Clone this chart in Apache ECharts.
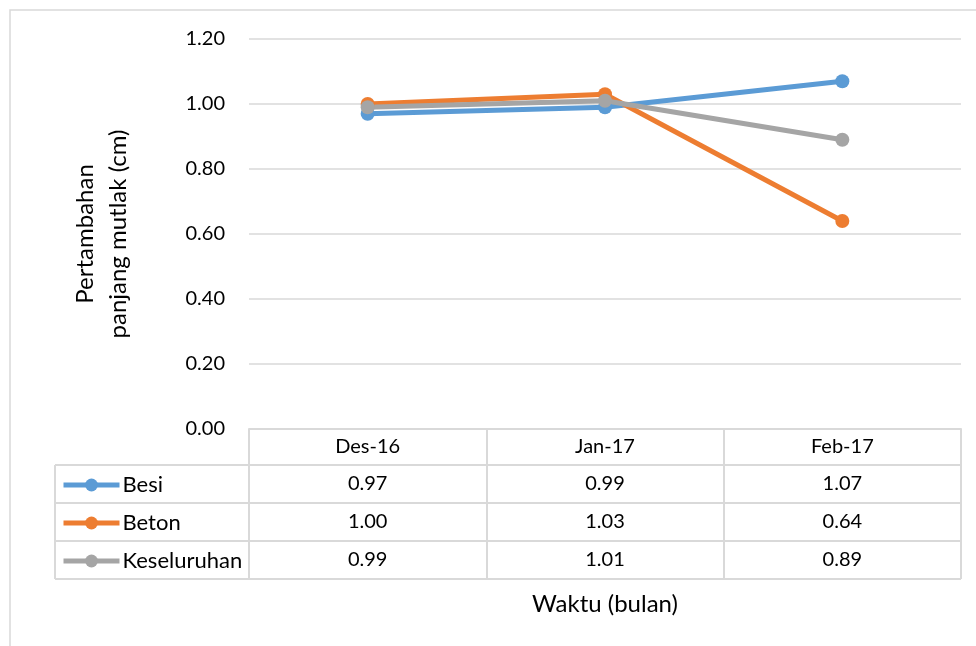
<!DOCTYPE html>
<html>
<head>
<meta charset="utf-8">
<script src="https://cdn.jsdelivr.net/npm/echarts@6/dist/echarts.min.js"></script>
<style>
  html, body { margin: 0; padding: 0; background: #fff; }
  #chart { width: 976px; height: 646px; }
</style>
</head>
<body>
<div id="chart"></div>
<script>
// data
const months = ['Des-16', 'Jan-17', 'Feb-17'];
const seriesNames = ['Besi', 'Beton', 'Keseluruhan'];
const besi = [0.97, 0.99, 1.07];
const beton = [1.00, 1.03, 0.64];
const keseluruhan = [0.99, 1.01, 0.89];
const yTicks = [0, 0.2, 0.4, 0.6, 0.8, 1.0, 1.2];

const colors = ['#5b9bd5', '#ed7d31', '#a5a5a5'];
const rows = [besi, beton, keseluruhan];
const font = 'Lato, "Open Sans", sans-serif';
const lineCol = '#d9d9d9';

const chart = echarts.init(document.getElementById('chart'));

// one extra x axis per table row, its labels are the values
const rowAxes = rows.map((vals, i) => ({
  type: 'category',
  data: months,
  position: 'bottom',
  offset: 37 + i * 38,
  axisLine: {show: false},
  axisTick: {show: false},
  splitLine: {show: false},
  axisLabel: {
    margin: 8,
    fontSize: 20,
    fontFamily: font,
    color: '#000',
    formatter: (v, idx) => vals[idx].toFixed(2)
  }
}));
// x title sits under the last row
rowAxes[2].name = 'Waktu (bulan)';
rowAxes[2].nameLocation = 'middle';
rowAxes[2].nameGap = 50;
rowAxes[2].nameTextStyle = {fontSize: 24, fontFamily: font, color: '#000'};

const option = {
  animation: false,
  grid: {left: 249, right: 15, top: 39, bottom: 217, containLabel: false},
  legend: {
    orient: 'vertical',
    left: 61,
    top: 474,
    padding: 0,
    itemWidth: 56,
    itemHeight: 16,
    itemGap: 16,
    lineStyle: {width: 5},
    textStyle: {fontSize: 22, fontFamily: font, color: '#000', padding: [0, 0, 0, -2]},
    data: seriesNames
  },
  xAxis: [{
    type: 'category',
    data: months,
    boundaryGap: true,
    axisLine: {show: true, lineStyle: {color: lineCol, width: 2}},
    axisTick: {show: true, length: 150, lineStyle: {color: lineCol, width: 2}},
    axisLabel: {margin: 8, fontSize: 20, fontFamily: font, color: '#000'},
    splitLine: {show: false}
  }].concat(rowAxes),
  yAxis: {
    type: 'value',
    min: yTicks[0],
    max: yTicks[yTicks.length - 1],
    interval: 0.2,
    name: 'Pertambahan\npanjang mutlak (cm)',
    nameLocation: 'middle',
    nameGap: 114,
    nameTextStyle: {fontSize: 24, fontFamily: font, color: '#000', lineHeight: 33},
    axisLine: {show: false},
    axisTick: {show: false},
    axisLabel: {
      margin: 24,
      fontSize: 20,
      fontFamily: font,
      color: '#000',
      formatter: v => v.toFixed(2)
    },
    splitLine: {lineStyle: {color: lineCol, width: 1.5}}
  },
  series: seriesNames.map((name, i) => ({
    name: name,
    type: 'line',
    data: rows[i],
    symbol: 'circle',
    symbolSize: 14,
    color: colors[i],
    lineStyle: {width: 5, color: colors[i]},
    itemStyle: {color: colors[i]}
  })),
  graphic: [
    // outer chart border
    {type: 'rect', shape: {x: 10, y: 10, width: 1000, height: 700},
      style: {fill: null, stroke: lineCol, lineWidth: 1.5}, silent: true},
    // table rules
    ...[465, 503, 541, 579].map(y => ({
      type: 'line', shape: {x1: 55, y1: y, x2: 961, y2: y},
      style: {stroke: lineCol, lineWidth: 2}, silent: true
    })),
    {type: 'line', shape: {x1: 55, y1: 465, x2: 55, y2: 579},
      style: {stroke: lineCol, lineWidth: 2}, silent: true}
  ]
};

chart.setOption(option);
</script>
</body>
</html>
